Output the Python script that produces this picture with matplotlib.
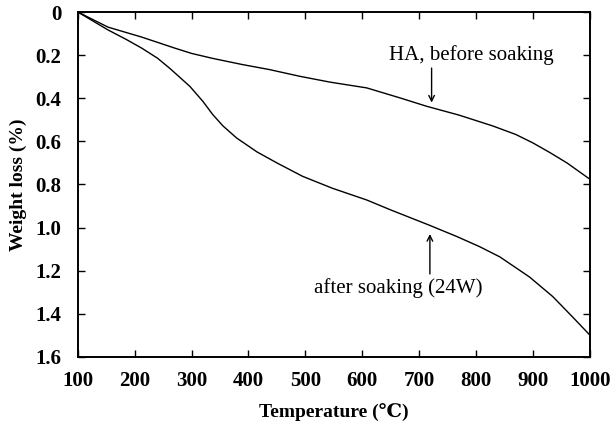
import numpy as np
import matplotlib
matplotlib.use("Agg")
import matplotlib.pyplot as plt

# Weight loss curves (temperature in C, weight loss in %)
temp_before = [100, 153, 212, 270, 300, 337, 388, 437, 490, 543, 608, 666, 713, 770, 829, 870, 900, 930, 960, 1000]
loss_before = [0.0, 0.07, 0.116, 0.167, 0.192, 0.215, 0.243, 0.267, 0.298, 0.325, 0.352, 0.398, 0.437, 0.478, 0.528, 0.568, 0.607, 0.652, 0.70, 0.775]

temp_after = [100, 153, 185, 212, 240, 262, 297, 320, 337, 355, 379, 415, 450, 495, 548, 608, 650, 719, 765, 806, 842, 894, 935, 970, 1000]
loss_after = [0.0, 0.083, 0.127, 0.167, 0.214, 0.262, 0.345, 0.415, 0.475, 0.528, 0.584, 0.649, 0.70, 0.762, 0.818, 0.872, 0.918, 0.99, 1.04, 1.088, 1.136, 1.229, 1.32, 1.415, 1.498]

xticks = [100, 200, 300, 400, 500, 600, 700, 800, 900, 1000]
yticks = [0, 0.2, 0.4, 0.6, 0.8, 1.0, 1.2, 1.4, 1.6]
ytick_labels = ["0", "0.2", "0.4", "0.6", "0.8", "1.0", "1.2", "1.4", "1.6"]

serif = ["Liberation Serif", "DejaVu Serif"]
plt.rcParams["font.family"] = serif

fig = plt.figure(figsize=(6.13, 4.30), dpi=100)
ax = fig.add_axes([0.127, 0.17, 0.835, 0.802])

ax.plot(temp_before, loss_before, color="black", lw=1.0)
ax.plot(temp_after, loss_after, color="black", lw=1.0)

ax.set_xlim(100, 1000)
ax.set_ylim(1.6, 0)
ax.set_xticks(xticks)
ax.set_yticks(yticks)
ax.set_yticklabels(ytick_labels)
ax.tick_params(direction="in", length=5, width=1.0, top=True, right=True,
               labelsize=15)
ax.tick_params(axis="x", pad=10)
ax.tick_params(axis="y", pad=12)
for lab in ax.get_xticklabels() + ax.get_yticklabels():
    lab.set_fontweight("bold")
for sp in ax.spines.values():
    sp.set_linewidth(1.4)

ax.set_xlabel("Temperature (\u2103)", fontsize=14, fontweight="bold", labelpad=9)
ax.set_ylabel("Weight loss (%)", fontsize=14, fontweight="bold", labelpad=6)

# annotations: labels and vertical arrows
ax.text(791, 0.20, "HA, before soaking", ha="center", va="center", fontsize=15)
ax.annotate("", xy=(722, 0.42), xytext=(722, 0.26),
            arrowprops=dict(arrowstyle="->", color="black", lw=1.0,
                            shrinkA=0, shrinkB=0))
ax.text(664, 1.28, "after soaking (24W)", ha="center", va="center", fontsize=15)
ax.annotate("", xy=(719, 1.03), xytext=(719, 1.215),
            arrowprops=dict(arrowstyle="->", color="black", lw=1.0,
                            shrinkA=0, shrinkB=0))

fig.savefig("out.png", dpi=100)
